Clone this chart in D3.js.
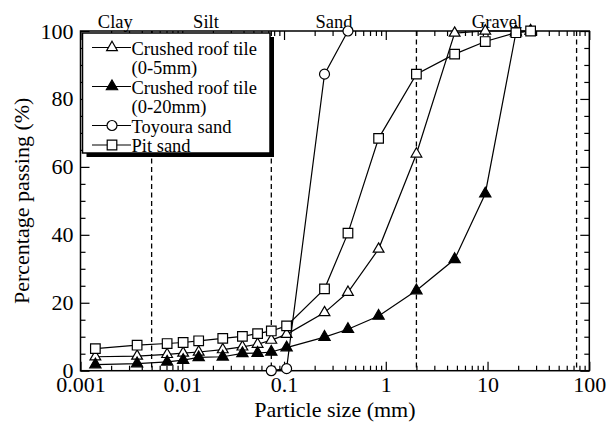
<!DOCTYPE html>
<html>
<head>
<meta charset="utf-8">
<script src="https://cdn.jsdelivr.net/npm/d3@7"></script>
<style>
  html, body { margin: 0; padding: 0; background: #fff; }
  svg { display: block; }
  text { font-family: "Liberation Serif", "Times New Roman", serif; fill: #000; }
</style>
</head>
<body>
<svg id="chart" width="609" height="425"></svg>
<script>
// Sieve / hydrometer particle sizes (mm)
const sizes = [0.0014, 0.0036, 0.0071, 0.0102, 0.0145, 0.025, 0.039, 0.055, 0.075,
               0.106, 0.25, 0.425, 0.85, 2, 4.75, 9.5, 19, 26.5];
// Percentage passing for each material
const tile05  = [4.1, 4.3, 4.8, 5.2, 5.5, 6.2, 7.0, 7.8, 9.0, 10.7, 17.1, 23.1, 35.8, 63.8, 99.4, 100, 100, 100];
const tile020 = [1.8, 2.1, 2.6, 3.1, 3.9, 4.1, 5.1, 5.2, 5.5, 6.8, 9.9, 12.2, 16.1, 23.6, 32.8, 52.1, 99.5, 100];
const pitSand = [6.5, 7.5, 8.0, 8.3, 8.8, 9.5, 10.1, 10.9, 11.7, 13.2, 24.1, 40.5, 68.4, 87.3, 93.2, 96.9, 99.5, 100];
const toyouraSizes = [0.075, 0.106, 0.25, 0.425];
const toyoura      = [0, 0.6, 87.3, 100];

// Soil classification boundaries (mm) and zone names
const boundaries = [0.005, 0.075, 2, 75];
const zoneNames = ["Clay", "Silt", "Sand", "Gravel"];
const zoneLabelAt = [0.0022, 0.0171, 0.31, 12.4];

const xTicks = [0.001, 0.01, 0.1, 1, 10, 100];
const xTickLabels = ["0.001", "0.01", "0.1", "1", "10", "100"];
const yTicks = [0, 20, 40, 60, 80, 100];

const svg = d3.select("#chart");
const L = 80.5, R = 589.3, T = 31, B = 370.7;

const x = d3.scaleLog().domain([0.001, 100]).range([L, R]);
const y = d3.scaleLinear().domain([0, 100]).range([B, T]);

const xMinor = [];
for (let e = -3; e < 2; e++) for (let m = 2; m <= 9; m++) xMinor.push(m * Math.pow(10, e));
const yMinor = d3.range(0, 101, 5).filter(v => v % 20 !== 0);

// Dashed classification boundaries
svg.append("g").selectAll("line").data(boundaries).join("line")
  .attr("x1", d => x(d)).attr("x2", d => x(d))
  .attr("y1", T).attr("y2", B)
  .attr("stroke", "#000").attr("stroke-width", 1.3)
  .attr("stroke-dasharray", "5,3.5");

// Zone labels above the frame
svg.append("g").selectAll("text").data(zoneNames).join("text")
  .attr("x", (d, i) => x(zoneLabelAt[i])).attr("y", 28)
  .attr("text-anchor", "middle").attr("font-size", 18.5)
  .text(d => d);

// Axes with inward ticks on all four sides
function styleAxis(g) {
  g.select(".domain").remove();
  g.selectAll(".tick line").attr("stroke", "#000").attr("stroke-width", 1.2);
  g.selectAll("text").attr("font-size", 22).attr("font-family", "Liberation Serif, serif").attr("fill", "#000");
}
svg.append("g").attr("transform", `translate(0,${B})`)
  .call(d3.axisBottom(x).tickValues(xTicks).tickSize(-9).tickPadding(6)
    .tickFormat((d, i) => xTickLabels[i]))
  .call(styleAxis);
svg.append("g").attr("transform", `translate(0,${B})`)
  .call(d3.axisBottom(x).tickValues(xMinor).tickSize(-5).tickFormat(""))
  .call(styleAxis);
svg.append("g").attr("transform", `translate(0,${T})`)
  .call(d3.axisTop(x).tickValues(xTicks).tickSize(-9).tickFormat(""))
  .call(styleAxis);
svg.append("g").attr("transform", `translate(0,${T})`)
  .call(d3.axisTop(x).tickValues(xMinor).tickSize(-5).tickFormat(""))
  .call(styleAxis);
svg.append("g").attr("transform", `translate(${L},0)`)
  .call(d3.axisLeft(y).tickValues(yTicks).tickSize(-9).tickPadding(7))
  .call(styleAxis);
svg.append("g").attr("transform", `translate(${L},0)`)
  .call(d3.axisLeft(y).tickValues(yMinor).tickSize(-5).tickFormat(""))
  .call(styleAxis);
svg.append("g").attr("transform", `translate(${R},0)`)
  .call(d3.axisRight(y).tickValues(yTicks).tickSize(-9).tickFormat(""))
  .call(styleAxis);
svg.append("g").attr("transform", `translate(${R},0)`)
  .call(d3.axisRight(y).tickValues(yMinor).tickSize(-5).tickFormat(""))
  .call(styleAxis);

// Frame
svg.append("rect").attr("x", L).attr("y", T).attr("width", R - L).attr("height", B - T)
  .attr("fill", "none").attr("stroke", "#000").attr("stroke-width", 1.5);

// Axis titles
svg.append("text").attr("x", (L + R) / 2).attr("y", 417)
  .attr("text-anchor", "middle").attr("font-size", 22).text("Particle size (mm)");
svg.append("text").attr("transform", `translate(29,${(T + B) / 2}) rotate(-90)`)
  .attr("text-anchor", "middle").attr("font-size", 22).text("Percentage passing (%)");

// Series
const series = [
  { name: ["Crushed roof tile", "(0-5mm)"],  xs: sizes, ys: tile05,  shape: d3.symbolTriangle, size: 50, fill: "#fff" },
  { name: ["Crushed roof tile", "(0-20mm)"], xs: sizes, ys: tile020, shape: d3.symbolTriangle, size: 55, fill: "#000" },
  { name: ["Toyoura sand"],                  xs: toyouraSizes, ys: toyoura, shape: d3.symbolCircle, size: 78, fill: "#fff" },
  { name: ["Pit sand"],                      xs: sizes, ys: pitSand, shape: d3.symbolSquare, size: 92, fill: "#fff" }
];

const line = d3.line().x(d => x(d[0])).y(d => y(d[1]));
series.forEach(s => {
  const pts = s.xs.map((v, i) => [v, s.ys[i]]);
  const g = svg.append("g");
  g.append("path").attr("d", line(pts)).attr("fill", "none")
    .attr("stroke", "#000").attr("stroke-width", 1.2);
  g.selectAll("path.m").data(pts).join("path").attr("class", "m")
    .attr("transform", d => `translate(${x(d[0])},${y(d[1])})`)
    .attr("d", d3.symbol(s.shape, s.size))
    .attr("fill", s.fill).attr("stroke", "#000").attr("stroke-width", 1.2);
});

// Legend with drop shadow
const lg = svg.append("g");
const bx = 82.5, by = 33, bw = 187.5, bh = 120;
lg.append("rect").attr("x", bx + 4).attr("y", by + 4).attr("width", bw).attr("height", bh).attr("fill", "#000");
lg.append("rect").attr("x", bx).attr("y", by).attr("width", bw).attr("height", bh)
  .attr("fill", "#fff").attr("stroke", "#000").attr("stroke-width", 1.5);
const rowH = 19.5;
let row = 0;
series.forEach(s => {
  const cy = 47.5 + row * rowH;
  lg.append("line").attr("x1", 92).attr("x2", 131).attr("y1", cy).attr("y2", cy)
    .attr("stroke", "#000").attr("stroke-width", 1.2);
  lg.append("path").attr("transform", `translate(112,${cy})`)
    .attr("d", d3.symbol(s.shape, s.size))
    .attr("fill", s.fill).attr("stroke", "#000").attr("stroke-width", 1.2);
  s.name.forEach((t, k) => {
    lg.append("text").attr("x", 131.5).attr("y", cy + 7 + k * rowH)
      .attr("font-size", 18.5).text(t);
  });
  row += s.name.length;
});
</script>
</body>
</html>
